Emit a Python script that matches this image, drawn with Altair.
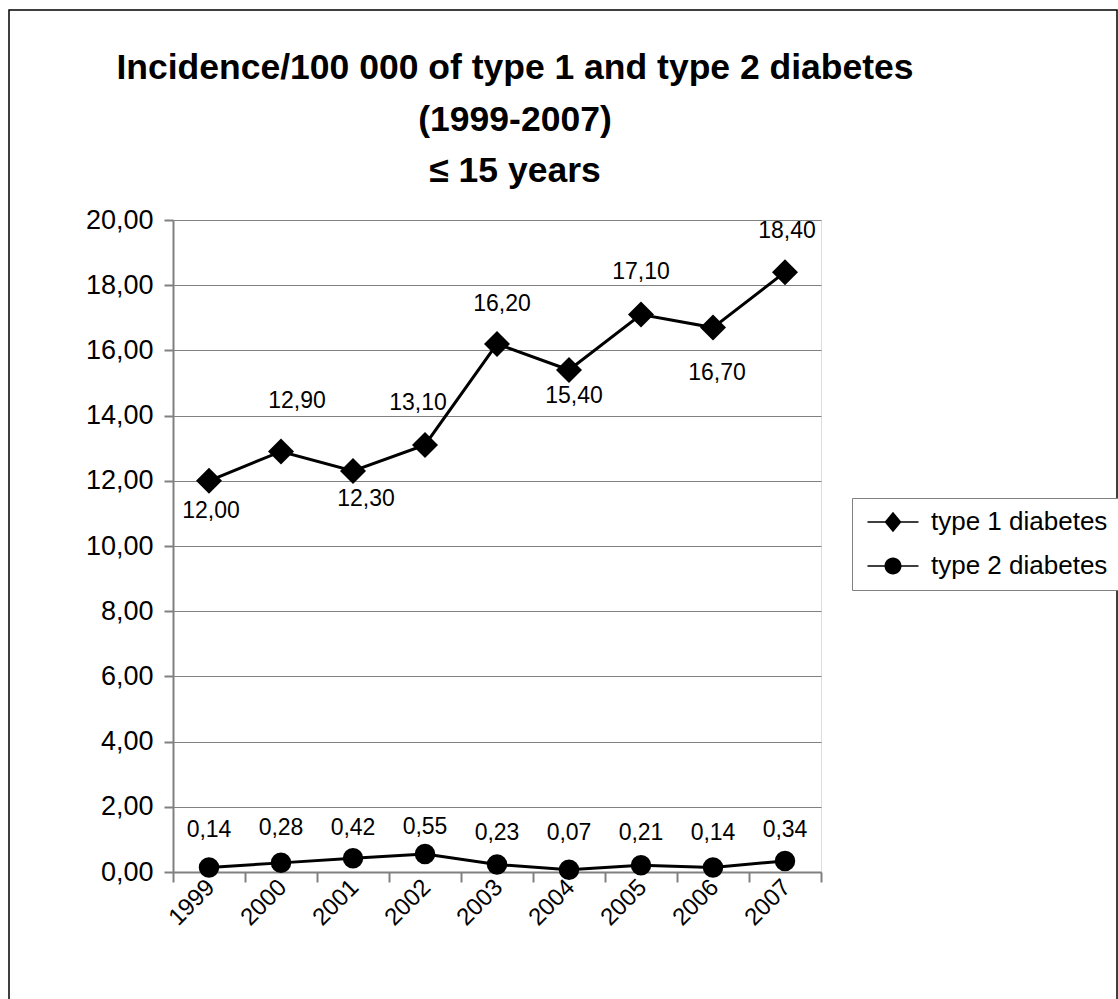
import altair as alt
import pandas as pd

years = [1999, 2000, 2001, 2002, 2003, 2004, 2005, 2006, 2007]
type1 = [12.00, 12.90, 12.30, 13.10, 16.20, 15.40, 17.10, 16.70, 18.40]
type2 = [0.14, 0.28, 0.42, 0.55, 0.23, 0.07, 0.21, 0.14, 0.34]
series_names = ["type 1 diabetes", "type 2 diabetes"]
y_ticks = [0, 2, 4, 6, 8, 10, 12, 14, 16, 18, 20]
title_lines = ["Incidence/100 000 of type 1 and type 2 diabetes", "(1999-2007)", "≤ 15 years"]

# hand-placed value labels (pixel nudges from each point)
t1_label_dx = [2, 16, 13, -7, 5, 5, 0, 4, 2]
t1_label_dy = [30, -50, 28, -42, -40, 26, -43, 45, -41]
t2_label_dx = [0, 0, 0, 0, 0, 0, 0, 0, 0]
t2_label_dy = [-37, -35, -30, -27, -32, -37, -32, -34, -31]

FONT = "Liberation Sans"

# legend keys: a short line with the marker sitting in its middle
KEY_DIAMOND = "M-1,-0.09H5V0.09H-1Z M1,0L2,-1.2L3,0L2,1.2Z"
KEY_CIRCLE = "M-1,-0.09H5V0.09H-1Z M1,0A1,1 0 1,1 3,0A1,1 0 1,1 1,0Z"


def comma(v):
    return f"{v:.2f}".replace(".", ",")


rows = []
for s, vals in zip(series_names, [type1, type2]):
    for i, yr in enumerate(years):
        rows.append({"year": yr, "series": s, "value": vals[i], "label": comma(vals[i])})
df = pd.DataFrame(rows)
df["idx"] = range(len(df))

x_scale = alt.Scale(domain=[years[0] - 0.5, years[-1] + 0.5], nice=False, zero=False)
y_enc = alt.Y(
    "value:Q",
    scale=alt.Scale(domain=[0, 20], nice=False),
    axis=alt.Axis(
        values=y_ticks,
        labelExpr="replace(format(datum.value, '.2f'), '.', ',')",
        title=None,
        grid=True, gridColor="#808080", gridWidth=1,
        domainColor="#808080", domainWidth=2,
        tickColor="#808080", tickWidth=2, tickSize=9,
        labelFont=FONT, labelFontSize=27, labelColor="black", labelPadding=11,
    ),
)
x_plain = alt.X("year:Q", scale=x_scale, axis=None)

base = alt.Chart(df)

# year labels at the middle of each category
lines = base.mark_line(color="black", strokeWidth=3).encode(
    x=alt.X("year:Q", scale=x_scale,
            axis=alt.Axis(orient="bottom", values=years, format="d", labelAngle=-45,
                          ticks=False, domain=False, grid=False, title=None,
                          labelFont=FONT, labelFontSize=24, labelColor="black",
                          labelPadding=3, labelOffset=-7)),
    y=y_enc,
    detail="series:N",
)

# tick marks at category boundaries
boundaries = [years[0] - 0.5 + k for k in range(len(years) + 1)]
points = base.mark_point(filled=True, color="black", opacity=1).encode(
    x=alt.X("year:Q", scale=x_scale,
            axis=alt.Axis(orient="bottom", values=boundaries, labels=False, grid=False,
                          title=None, domainColor="#808080", domainWidth=2,
                          tickColor="#808080", tickWidth=2, tickSize=10)),
    y=y_enc,
    shape=alt.Shape("series:N",
                    scale=alt.Scale(domain=series_names, range=["diamond", "circle"]),
                    legend=None),
    size=alt.Size("series:N", scale=alt.Scale(domain=series_names, range=[676, 420]),
                  legend=None),
)

# invisible layer that only carries the legend
legend_layer = base.mark_point(filled=True, color="black", opacity=0).encode(
    x=x_plain,
    y=y_enc,
    shape=alt.Shape(
        "series:N",
        scale=alt.Scale(domain=series_names, range=[KEY_DIAMOND, KEY_CIRCLE]),
        legend=alt.Legend(
            title=None, orient="none", legendX=679, legendY=278,
            strokeColor="#808080", fillColor="white", padding=11,
            labelFont=FONT, labelFontSize=26, labelColor="black", labelLimit=500,
            labelOffset=42, rowPadding=18,
            symbolSize=289, symbolFillColor="black", symbolStrokeColor="black",
            symbolStrokeWidth=0, symbolOpacity=1,
        ),
    ),
)

label_layers = []
offsets = list(zip(t1_label_dx, t1_label_dy)) + list(zip(t2_label_dx, t2_label_dy))
for k, (dx, dy) in enumerate(offsets):
    label_layers.append(
        base.transform_filter(alt.datum.idx == k)
        .mark_text(font=FONT, fontSize=23, color="black", align="center",
                   baseline="middle", dx=dx, dy=dy)
        .encode(x=x_plain, y=y_enc, text="label:N")
    )

# chart heading, three centred lines above the plot
heading = alt.Chart(alt.Data(values=[{"t": "\n".join(title_lines)}])).mark_text(
    font=FONT, fontSize=35.5, fontWeight="bold", color="black", align="center",
    baseline="alphabetic", lineBreak="\n", lineHeight=51.5, clip=False,
).encode(x=alt.value(342), y=alt.value(-141), text="t:N")

# outer border around the whole figure
frame = alt.Chart(alt.Data(values=[{}])).mark_rect(
    filled=False, stroke="black", strokeWidth=1.5, clip=False
).encode(x=alt.value(-164), x2=alt.value(944), y=alt.value(-210), y2=alt.value(800))

chart = alt.layer(frame, heading, lines, points, legend_layer, *label_layers).resolve_axis(
    x="independent"
).resolve_scale(shape="independent").properties(
    width=648,
    height=652,
    padding={"left": 173, "top": 220, "right": 297, "bottom": 127},
    autosize=alt.AutoSizeParams(type="none"),
).configure_view(stroke=None).configure(background="white")

chart.save("out.html", embed_options={"renderer": "svg", "actions": False})
